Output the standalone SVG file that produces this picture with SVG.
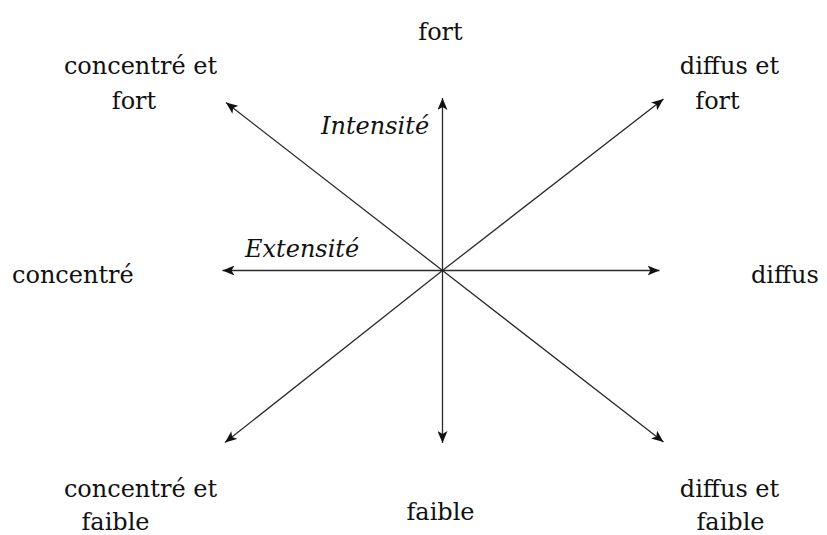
<svg xmlns="http://www.w3.org/2000/svg" width="827" height="535" viewBox="0 0 827 535">
<style>
text{font-family:'DejaVu Serif',serif;font-size:24px;fill:#111}
.m{text-anchor:middle}
.i{font-style:italic}
.c{stroke:#2a2a2a;stroke-width:1.3;fill:none;marker-end:url(#ah)}
</style>
<defs>
<marker id="ah" markerUnits="userSpaceOnUse" markerWidth="13" markerHeight="10" refX="12" refY="5" orient="auto">
<path d="M0,0 L12,5 L0,10 L3,5 z" fill="#111"/>
</marker>
</defs>
<rect width="827" height="535" fill="#fff"/>
<g id="connectors">
<line class="c" x1="442.5" y1="270.5" x2="442.5" y2="98"/>
<line class="c" x1="442.5" y1="270.5" x2="442.5" y2="443"/>
<line class="c" x1="442.5" y1="270.5" x2="222.5" y2="270.5"/>
<line class="c" x1="442.5" y1="270.5" x2="659.5" y2="270.5"/>
<line class="c" x1="442.5" y1="270.5" x2="226" y2="102.5"/>
<line class="c" x1="442.5" y1="270.5" x2="663.5" y2="99"/>
<line class="c" x1="442.5" y1="270.5" x2="225" y2="442.5"/>
<line class="c" x1="442.5" y1="270.5" x2="663.5" y2="442"/>
</g>
<g id="axis-labels">
<text class="i" x="321" y="134">Intensité</text>
<text class="i" x="245" y="257">Extensité</text>
</g>
<g id="n-fort"><text class="m" x="440.5" y="40">fort</text></g>
<g id="n-concentre-fort"><text class="m" x="140.5" y="74">concentré et</text><text class="m" x="134" y="109">fort</text></g>
<g id="n-diffus-fort"><text class="m" x="729.5" y="74">diffus et</text><text class="m" x="717.5" y="109">fort</text></g>
<g id="n-concentre"><text x="12" y="283">concentré</text></g>
<g id="n-diffus"><text x="751" y="283">diffus</text></g>
<g id="n-concentre-faible"><text class="m" x="140.5" y="497">concentré et</text><text class="m" x="115.5" y="530">faible</text></g>
<g id="n-faible"><text class="m" x="440.5" y="520">faible</text></g>
<g id="n-diffus-faible"><text class="m" x="729.5" y="497">diffus et</text><text class="m" x="730.5" y="530">faible</text></g>
</svg>
